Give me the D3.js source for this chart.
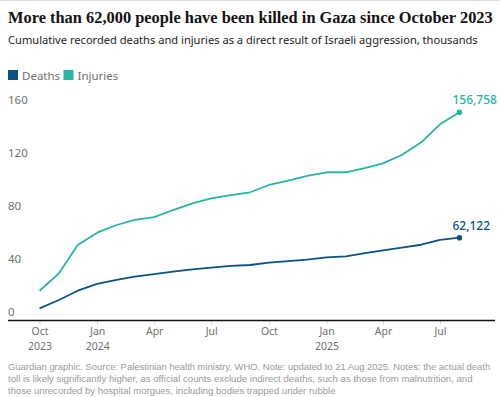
<!DOCTYPE html>
<html>
<head>
<meta charset="utf-8">
<script src="https://cdn.jsdelivr.net/npm/d3@7"></script>
<style>
  body { margin: 0; background: #fff; }
  svg { display: block; }
</style>
</head>
<body>
<script>
// monthly cumulative figures, thousands
var months = ["2023-10","2023-11","2023-12","2024-01","2024-02","2024-03","2024-04","2024-05",
              "2024-06","2024-07","2024-08","2024-09","2024-10","2024-11","2024-12","2025-01",
              "2025-02","2025-03","2025-04","2025-05","2025-06","2025-07","2025-08"];
var deaths = [8.8, 15.1, 22.1, 27.2, 30.2, 32.7, 34.7, 36.5, 38.2, 39.5, 40.8, 41.5,
              43.3, 44.5, 45.5, 47.3, 48.0, 50.3, 52.6, 54.6, 56.8, 60.4, 62.122];
var injuries = [22.1, 35.2, 56.6, 65.9, 71.7, 75.5, 77.7, 83.0, 88.0, 91.8, 94.3, 96.4,
                101.9, 105.2, 108.7, 111.5, 111.5, 114.5, 118.2, 124.5, 134.1, 147.7, 156.758];
var yTicks = [0, 40, 80, 120, 160];
var xTicks = ["2023-10","2024-01","2024-04","2024-07","2024-10","2025-01","2025-04","2025-07"];
var endLabels = ["62,122", "156,758"];

var deathColor = "#0a5382";
var injuryColor = "#27b4a3";
var parseMonth = d3.timeParse("%Y-%m");

var svg = d3.select("body").append("svg")
    .attr("width", 500)
    .attr("height", 397);

// fit a text element to a given pixel width by tweaking font-size
function fit(sel, width) {
  var size = parseFloat(sel.attr("font-size"));
  var w = sel.node().getComputedTextLength();
  sel.attr("font-size", (size * width / w).toFixed(2) + "px");
}

svg.append("line")
    .attr("x1", 0).attr("x2", 500).attr("y1", 0.5).attr("y2", 0.5)
    .attr("stroke", "#dcdcdc");

var title = svg.append("text")
    .attr("x", 8).attr("y", 22.5)
    .attr("font-family", "Liberation Serif, DejaVu Serif, serif")
    .attr("font-weight", "bold")
    .attr("font-size", "17px")
    .attr("fill", "#121212")
    .text("More than 62,000 people have been killed in Gaza since October 2023");
fit(title, 485);

var sub = svg.append("text")
    .attr("x", 8).attr("y", 44)
    .attr("font-family", "Noto Sans, sans-serif")
    .attr("font-size", "13px")
    .attr("fill", "#222")
    .text("Cumulative recorded deaths and injuries as a direct result of Israeli aggression, thousands");
fit(sub, 470);

// legend
var legend = [{ name: "Deaths", color: deathColor, x: 8 }, { name: "Injuries", color: injuryColor, x: 63.5 }];
legend.forEach(function (d) {
  svg.append("rect").attr("x", d.x).attr("y", 70).attr("width", 10).attr("height", 10).attr("fill", d.color);
  svg.append("text").attr("x", d.x + 14).attr("y", 79.5)
      .attr("font-family", "Noto Sans, sans-serif").attr("font-size", "11.5px")
      .attr("fill", "#707070").text(d.name);
});

var x = d3.scaleTime()
    .domain([parseMonth("2023-10"), parseMonth("2025-07")])
    .range([39.5, 440]);
var y = d3.scaleLinear()
    .domain([0, 160])
    .range([320, 108]);

// y labels sit above their value
svg.selectAll(".ylab")
    .data(yTicks)
    .enter().append("text")
    .attr("x", 8)
    .attr("y", function (d) { return y(d) - 4; })
    .attr("font-family", "Noto Sans, sans-serif")
    .attr("font-size", "11.5px")
    .attr("fill", "#707070")
    .text(function (d) { return d; });

// x axis
var xAxis = d3.axisBottom(x)
    .tickValues(xTicks.map(parseMonth))
    .tickSize(4)
    .tickFormat(function (d) { return d3.timeFormat("%b")(d); });
var gx = svg.append("g").attr("transform", "translate(0,320.5)").call(xAxis);
gx.select(".domain").remove();
gx.selectAll(".tick line").attr("stroke", "#d0d0d0");
gx.selectAll(".tick text")
    .attr("font-family", "Noto Sans, sans-serif")
    .attr("font-size", "10.5px")
    .attr("fill", "#707070")
    .attr("dy", null)
    .attr("y", 14.5);
// year labels under the first month of each year (and the start)
gx.selectAll(".tick")
    .filter(function (d) { return d.getMonth() === 0 || (d.getMonth() === 9 && d.getFullYear() === 2023); })
    .append("text")
    .attr("y", 29)
    .attr("text-anchor", "middle")
    .attr("font-family", "Noto Sans, sans-serif")
    .attr("font-size", "10.5px")
    .attr("fill", "#707070")
    .text(function (d) { return d.getFullYear(); });
svg.append("line")
    .attr("x1", 8).attr("x2", 495).attr("y1", 320.5).attr("y2", 320.5)
    .attr("stroke", "#121212").attr("stroke-width", 1.5);

var series = [
  { values: deaths, color: deathColor, label: endLabels[0] },
  { values: injuries, color: injuryColor, label: endLabels[1] }
];

var line = d3.line()
    .x(function (d, i) { return x(parseMonth(months[i])); })
    .y(function (d) { return y(d); });

series.forEach(function (s) {
  svg.append("path")
      .datum(s.values)
      .attr("d", line)
      .attr("fill", "none")
      .attr("stroke", s.color)
      .attr("stroke-width", 1.8)
      .attr("stroke-linejoin", "round");
  var last = s.values.length - 1;
  var lx = x(parseMonth(months[last])), ly = y(s.values[last]);
  svg.append("circle").attr("cx", lx).attr("cy", ly).attr("r", 2.8).attr("fill", s.color);
  svg.append("text")
      .attr("x", lx - 7).attr("y", ly - 8)
      .attr("font-family", "Noto Sans, sans-serif")
      .attr("font-size", "12px")
      .attr("font-weight", 500)
      .attr("fill", s.color)
      .text(s.label);
});

// footer
var notes = [
  "Guardian graphic. Source: Palestinian health ministry, WHO. Note: updated to 21 Aug 2025. Notes: the actual death",
  "toll is likely significantly higher, as official counts exclude indirect deaths, such as those from malnutrition, and",
  "those unrecorded by hospital morgues, including bodies trapped under rubble"
];
var noteWidths = [483, 465, 328];
notes.forEach(function (t, i) {
  var n = svg.append("text")
      .attr("x", 8).attr("y", 369.5 + i * 12.3)
      .attr("font-family", "Liberation Sans, Arial, sans-serif")
      .attr("font-size", "10.5px")
      .attr("fill", "#9a9a9a")
      .text(t);
  fit(n, noteWidths[i]);
});
</script>
</body>
</html>
